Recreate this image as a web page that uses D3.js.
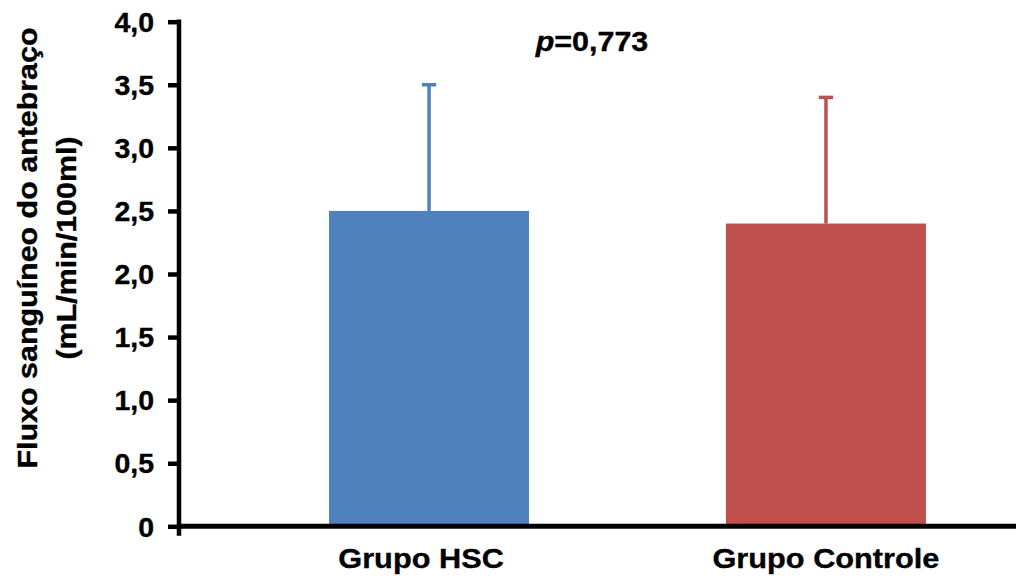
<!DOCTYPE html>
<html>
<head>
<meta charset="utf-8">
<script src="https://cdn.jsdelivr.net/npm/d3@7"></script>
<style>
  html, body { margin: 0; padding: 0; background: #fff; }
  svg { display: block; }
  text { font-family: Arial, "Liberation Sans", sans-serif; font-weight: bold; fill: #000; stroke: #000; stroke-width: 0.35px; }
</style>
</head>
<body>
<svg id="chart" width="1016" height="578"></svg>
<script>
// Forearm blood flow by group (mean + SD)
const categories = ["Grupo HSC", "Grupo Controle"];
const means = [2.5, 2.4];
const sds = [1.0, 1.0];
const colors = ["#4F81BD", "#C0504D"];
const tickValues = [0, 0.5, 1.0, 1.5, 2.0, 2.5, 3.0, 3.5, 4.0];
const tickLabels = ["0", "0,5", "1,0", "1,5", "2,0", "2,5", "3,0", "3,5", "4,0"];
const titleLines = ["Fluxo sanguíneo do antebraço", "(mL/min/100ml)"];
const pLabel = { italic: "p", rest: "=0,773" };

const svg = d3.select("#chart");

const x0 = 179, yTop = 21.7, yBottom = 526.3;
const labelShift = [-8, 0];

// widen glyphs along the text direction (wide bold face)
function widen(sel, factor) {
  sel.each(function () {
    const w = this.getComputedTextLength();
    d3.select(this).attr("textLength", w * factor).attr("lengthAdjust", "spacingAndGlyphs");
  });
}

const y = d3.scaleLinear().domain([0, 4]).range([yBottom, yTop]);
const x = d3.scaleBand()
  .domain(categories)
  .range([x0, 1076])
  .paddingInner(0.496)
  .paddingOuter(0.378);

// Bars
svg.append("g").selectAll("rect")
  .data(categories)
  .join("rect")
  .attr("x", d => x(d))
  .attr("width", x.bandwidth())
  .attr("y", (d, i) => y(means[i]))
  .attr("height", (d, i) => y(0) - y(means[i]))
  .attr("fill", (d, i) => colors[i]);

// Error bars (upper only)
const capHalf = 7.2;
const eb = svg.append("g").selectAll("g")
  .data(categories)
  .join("g")
  .attr("stroke", (d, i) => colors[i])
  .attr("stroke-width", 3.5);
eb.append("line")
  .attr("x1", d => x(d) + x.bandwidth() / 2)
  .attr("x2", d => x(d) + x.bandwidth() / 2)
  .attr("y1", (d, i) => y(means[i]))
  .attr("y2", (d, i) => y(means[i] + sds[i]));
eb.append("line")
  .attr("x1", d => x(d) + x.bandwidth() / 2 - capHalf)
  .attr("x2", d => x(d) + x.bandwidth() / 2 + capHalf)
  .attr("y1", (d, i) => y(means[i] + sds[i]))
  .attr("y2", (d, i) => y(means[i] + sds[i]));

// Y axis
const yAxis = d3.axisLeft(y)
  .tickValues(tickValues)
  .tickFormat((d, i) => tickLabels[i])
  .tickSize(11)
  .tickPadding(14);
const gy = svg.append("g")
  .attr("transform", `translate(${x0},0)`)
  .call(yAxis);
gy.select(".domain").remove();
gy.selectAll(".tick line").attr("stroke", "#000").attr("stroke-width", 4.5);
const tickText = gy.selectAll(".tick text")
  .attr("font-size", 27)
  .attr("font-family", "Arial, 'Liberation Sans', sans-serif")
  .attr("font-weight", "bold")
  .attr("dy", "0.36em");
widen(tickText, 1.055);

// axis spine, extended below the baseline as the first category tick
svg.append("line")
  .attr("x1", x0).attr("x2", x0)
  .attr("y1", yTop - 2.3).attr("y2", yBottom + 9.5)
  .attr("stroke", "#000").attr("stroke-width", 4.5);

// X axis baseline
svg.append("line")
  .attr("x1", x0 - 2).attr("x2", x.range()[1])
  .attr("y1", yBottom).attr("y2", yBottom)
  .attr("stroke", "#000").attr("stroke-width", 5);

// Category labels
const catText = svg.append("g").selectAll("text")
  .data(categories)
  .join("text")
  .attr("x", (d, i) => x(d) + x.bandwidth() / 2 + labelShift[i])
  .attr("y", 568)
  .attr("text-anchor", "middle")
  .attr("font-size", 28.5)
  .text(d => d);
widen(catText, 1.078);

// Significance label
const pt = svg.append("text")
  .attr("x", 592)
  .attr("y", 51)
  .attr("text-anchor", "middle")
  .attr("font-size", 28.5);
pt.append("tspan").attr("font-style", "italic").text(pLabel.italic);
pt.append("tspan").text(pLabel.rest);
widen(pt, 1.069);

// Y axis title
const title = svg.append("g")
  .attr("transform", "translate(0,248) rotate(-90)");
const titleText = title.selectAll("text")
  .data(titleLines)
  .join("text")
  .attr("x", 0)
  .attr("y", (d, i) => 37 + i * 39)
  .attr("text-anchor", "middle")
  .attr("font-size", 28.5)
  .text(d => d);
widen(titleText, 1.067);
</script>
</body>
</html>
